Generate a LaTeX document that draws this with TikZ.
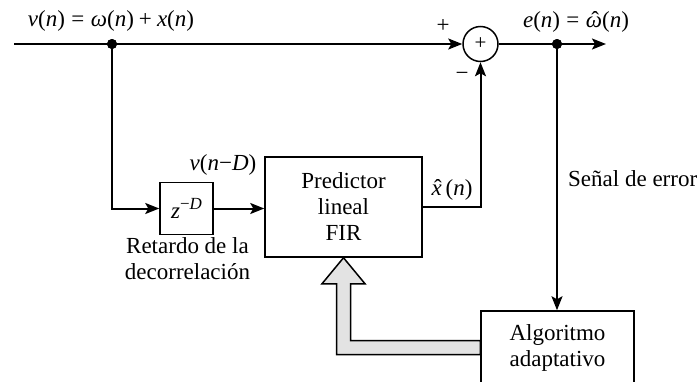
\documentclass[tikz,border=0pt]{standalone}
\usepackage{fontspec}
\setmainfont{Liberation Serif}
\usetikzlibrary{arrows.meta,calc}
\newcommand\iv[1]{\textit{#1}}
\newcommand\hatit[1]{\leavevmode\hbox{\ooalign{\textit{#1}\cr\hidewidth\kern0.1em ˆ\hidewidth\cr}}}
\newcommand\eqs{\hspace{0.28em}=\hspace{0.28em}}
\newcommand\pls{\hspace{0.22em}+\hspace{0.22em}}
\begin{document}
\begin{tikzpicture}[x=1pt,y=-1pt,
  font=\fontsize{23}{26}\selectfont,
  box/.style={draw, line width=1.5pt, inner sep=0pt, align=center},
  ln/.style={line width=2pt},
  arr/.style={ln, -{Stealth[length=14pt,width=11pt,inset=3pt]}},
  dot/.style={circle, fill, inner sep=0pt, minimum size=10pt},
  lbl/.style={inner sep=0pt}]
\useasboundingbox (0,0) rectangle (700,381);
% nodes
\coordinate (in) at (14,44);
\node[dot] (j1) at (112,44) {};
\node[circle, draw, line width=1.5pt, minimum size=35pt, inner sep=0pt, font=\fontsize{21}{21}\selectfont] (sum) at (480.5,44) {\raisebox{0.05em}{+}};
\node[dot] (j2) at (557,44) {};
\coordinate (out) at (606,44);
\node[box, minimum width=53pt, minimum height=52pt] (delay) at (186.5,208.5) {\iv{z}\raisebox{0.42em}{\fontsize{17}{17}\selectfont −\iv{D}}};
\node[box, minimum width=157pt, minimum height=100pt] (pred) at (343.5,207) {Predictor\\lineal\\FIR};
\node[box, minimum width=153pt, minimum height=73pt] (alg) at (557.5,347.5) {Algoritmo\\adaptativo};
% labels
\node[lbl] (l1) at (111,21) {\iv{v}(\iv{n})\eqs\iv{ω}(\iv{n})\pls\iv{x}(\iv{n})};
\node[lbl] (l2) at (576,22) {\iv{e}(\iv{n})\eqs\hatit{ω}(\iv{n})};
\node[lbl] (lp) at (443,26) {+};
\node[lbl] (lm) at (462,76) {−};
\node[lbl] (l3) at (223,165) {\iv{v}(\iv{n}−\iv{D})};
\node[lbl] (l4) at (452,190) {\hatit{x}\,(\iv{n})};
\node[lbl, anchor=west] (l5) at (568,179) {Señal de error};
\node[lbl, align=center] (l6) at (187.5,259) {Retardo de la\\decorrelación};
% connectors
\draw[arr] (in) -- (sum.west);
\draw[arr] (sum.east) -- (out);
\draw[arr] (j1) |- (delay.west);
\draw[arr] (delay.east) -- (delay.east -| pred.west);
\draw[arr] (pred.east) -| (sum.south);
\draw[arr] (j2) -- (alg.north -| j2);
\node[dot] at (j1) {};
\node[dot] at (j2) {};
% fat arrow
\draw[line width=1.5pt, fill=black!11, line join=miter]
  (pred.south) -- ++(21.5,26) -- ++(-14.5,0) |- ($(alg.west)+(0,-7)$)
  -- ($(alg.west)+(0,7)$) -| ($(pred.south)+(-7,26)$) -- ++(-14.5,0) -- cycle;
\end{tikzpicture}
\end{document}
